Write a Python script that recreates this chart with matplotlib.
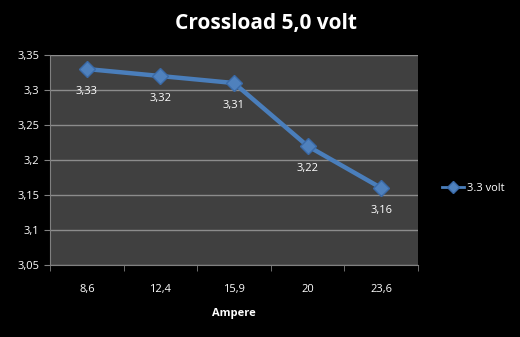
import matplotlib
matplotlib.use("Agg")
import matplotlib.pyplot as plt

# data
ampere = ["8,6", "12,4", "15,9", "20", "23,6"]
volt_33 = [3.33, 3.32, 3.31, 3.22, 3.16]
yticks = [3.05, 3.10, 3.15, 3.20, 3.25, 3.30, 3.35]

plt.rcParams['font.family'] = ['Open Sans', 'DejaVu Sans']

fig = plt.figure(figsize=(5.2, 3.37), dpi=100, facecolor='black')
ax = fig.add_axes([0.0962, 0.2136, 0.7077, 0.6231])
ax.set_facecolor('#404040')

x = range(len(ampere))
ax.plot(x, volt_33, color='#4a7ebb', linewidth=3.2, marker='D', markersize=8,
        markerfacecolor='#4f81bd', markeredgecolor='#3a6aa8', label='3.3 volt', zorder=3)

for xi, v in zip(x, volt_33):
    ax.annotate(f"{v:.2f}".replace('.', ','), (xi, v), xytext=(0, -16),
                textcoords='offset points', ha='center', va='center',
                color='white', fontsize=8)

ax.set_xlim(-0.5, len(ampere) - 0.5)
ax.set_ylim(3.05, 3.35)
ax.set_yticks(yticks)
ax.set_yticklabels([f"{t:.2f}".rstrip('0').replace('.', ',') for t in yticks])
ax.set_xticks(list(x))
ax.set_xticklabels(ampere)
ax.set_xticks([i - 0.5 for i in range(len(ampere) + 1)], minor=True)
ax.tick_params(axis='x', which='major', length=0, pad=14, colors='white', labelsize=8)
ax.tick_params(axis='x', which='minor', length=4, color='#808080')
ax.tick_params(axis='y', length=4, color='#808080', labelcolor='white', labelsize=8)
ax.grid(axis='y', color='#8c8c8c', linewidth=1)
ax.set_axisbelow(True)
for side in ['top', 'right']:
    ax.spines[side].set_visible(False)
for side in ['left', 'bottom']:
    ax.spines[side].set_color('#808080')

ax.set_xlabel('Ampere', color='white', fontsize=8, fontweight='bold', labelpad=9)
fig.text(0.512, 0.93, 'Crossload 5,0 volt', color='white', fontsize=15,
         fontweight='bold', ha='center', va='center')

leg = fig.legend(loc='center left', bbox_to_anchor=(0.83, 0.44), frameon=False,
                 fontsize=8, handlelength=2.0, handletextpad=0.3)
for t in leg.get_texts():
    t.set_color('white')
for h in leg.legend_handles:
    h.set_linewidth(2)
    h.set_markersize(6)

fig.savefig('out.png', dpi=100, facecolor='black')
